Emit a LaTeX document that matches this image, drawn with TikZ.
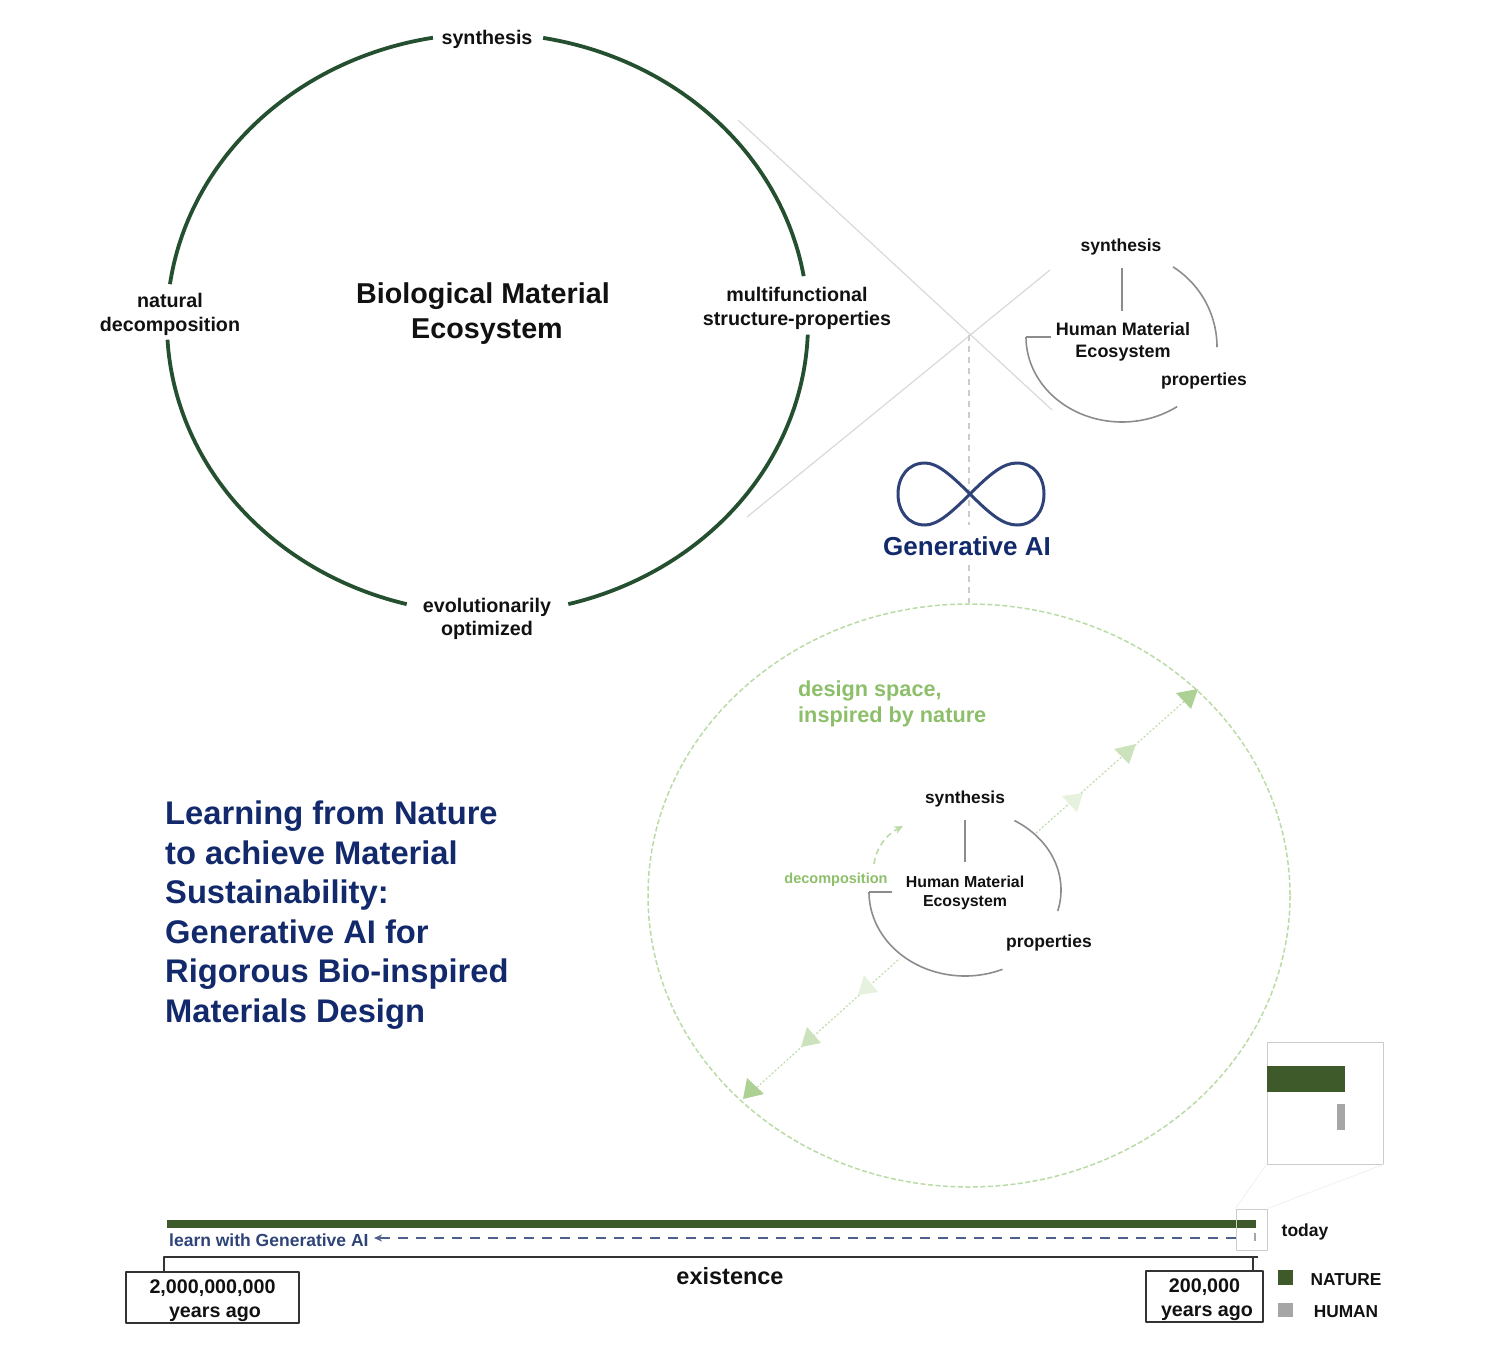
\documentclass[tikz,border=0pt]{standalone}
\usepackage{fontspec}
\setmainfont{Liberation Sans}
\usetikzlibrary{arrows.meta}
\definecolor{ringgreen}{HTML}{24502F}
\definecolor{barred}{HTML}{3F5A2A}
\definecolor{leaf}{HTML}{8DBF6B}
\definecolor{leafline}{HTML}{BBDBA6}
\definecolor{aiblue}{HTML}{12296B}
\definecolor{aisoft}{HTML}{2F4379}
\definecolor{darktext}{HTML}{111111}
\tikzset{
  lbl/.style={font=\bfseries\fontsize{19.7}{23.5}\selectfont, text=darktext, align=center, inner sep=0pt},
  lblsmall/.style={lbl, font=\bfseries\fontsize{17.5}{22}\selectfont},
  ring/.style={line width=3.8pt, ringgreen},
  loopline/.style={line width=1.6pt, black!45},
  crossline/.style={line width=1.2pt, black!15},
  yearbox/.style={draw=black!80, line width=1.6pt, lbl, fill=white, font=\bfseries\fontsize{19.7}{24}\selectfont}
}
\begin{document}
\begin{tikzpicture}[line join = round, x=1pt, y=-1pt, >={Stealth[length=9pt,width=8pt]}]
\useasboundingbox (0,0) rectangle (1488,1352);
%Biological ring
\foreach \a/\b in {80/9.4, -2.2/-75.4, -104.6/-176.8, 172.2/99.8}
  \draw[ring] plot[domain = \a:\b, samples = 80, smooth, variable=\t]({487.5+320.5*cos(\t)},{323.5-290*sin(\t)});
\node[lbl] (bioSyn) at (487,39) {synthesis};
\node[lbl] (bioDec) at (170,314.5) {natural\\decomposition};
\node[lbl] (bioPro) at (797,308.5) {multifunctional\\structure-properties};
\node[lbl] (bioEvo) at (487,619) {evolutionarily\\optimized};
\node[lbl, font=\bfseries\fontsize{28.7}{35}\selectfont] (bioName) at (483,313.5) {Biological Material\\\hspace*{8pt}Ecosystem};
%Zoom lines
\coordinate (crossA) at (738,120);
\coordinate (crossB) at (1052,410);
\coordinate (crossC) at (747,517);
\coordinate (crossD) at (1050,270);
\coordinate (crossO) at (969,335);
\draw[crossline] (crossA)--(crossB);
\draw[crossline] (crossC)--(crossD);
\coordinate (aiTop) at (969,525);
\coordinate (aiBot) at (969,565);
\coordinate (spaceTop) at (969,603);
\draw[line width=1.5pt, black!20, dash pattern=on 6pt off 5pt] (crossO)--(aiTop);
\draw[line width=1.5pt, black!20, dash pattern=on 6pt off 5pt] (aiBot)--(spaceTop);
%Human ecosystem, top
\foreach \cx/\cy/\rx/\ry/\a/\b in {1122/347/95/95/57.5/0, 1122/337/96/85/180/305}
  \draw[loopline] plot[domain = \a:\b, samples = 60, smooth, variable=\t]({\cx+\rx*cos(\t)},{\cy-\ry*sin(\t)});
\node[lblsmall] (topSyn) at (1121,247) {synthesis};
\node[lblsmall] (topPro) at (1204,380.5) {properties};
\node[lblsmall, font=\bfseries\fontsize{18}{22}\selectfont] (topName) at (1123,341.5) {Human Material\\Ecosystem};
\coordinate (topBarA) at (1122,268);
\coordinate (topBarB) at (1122,311);
\coordinate (topTickA) at (1026,337);
\coordinate (topTickB) at (1051,337);
\draw[loopline] (topBarA)--(topBarB);
\draw[loopline] (topTickA)--(topTickB);
%Generative AI
\draw[line width=3pt, aisoft] (970,494) .. controls (950,474) and (937,463) .. (925,463) .. controls (908,463) and (898,477) .. (898,494) .. controls (898,511) and (908,525) .. (925,525) .. controls (937,525) and (950,514) .. (970,494) .. controls (990,474) and (1003,463) .. (1017,463) .. controls (1034,463) and (1044,477) .. (1044,494) .. controls (1044,511) and (1034,525) .. (1017,525) .. controls (1003,525) and (990,514) .. (970,494) -- cycle;
\node[lbl, text=aiblue, font=\bfseries\fontsize{26}{30}\selectfont] (aiName) at (967,546) {Generative AI};
%Design space
\draw[line width=1.5pt, leafline, dash pattern=on 5pt off 2.5pt] (969,895.5) ellipse [x radius=321, y radius=291.5];
\node[lbl, text=leaf, align=left, anchor=west, font=\bfseries\fontsize{21.7}{26}\selectfont] (spaceName) at (798,704) {design space,\\inspired by nature};
\coordinate (upA) at (1036,833);
\coordinate (upB) at (1197,690);
\coordinate (downA) at (898,960);
\coordinate (downB) at (745,1098);
\draw[line width=1.1pt, leafline, dash pattern=on 2pt off 2pt] (upA)--(upB);
\draw[line width=1.1pt, leafline, dash pattern=on 2pt off 2pt] (downA)--(downB);
\foreach \ax/\ay/\bx/\by/\cx/\cy/\shade in {
  1176/693/1191/709/1198/689/72, 1114/749/1129/764/1136/744/45, 1062/796/1077/812/1083/793/22,
  743/1099/747/1078/764/1094/72, 801/1047/807/1027/821/1043/45, 858/995/864/975/878/992/22}
  \fill[leaf!\shade!white] (\ax,\ay)--(\bx,\by)--(\cx,\cy)--cycle;
%Human ecosystem, bottom
\foreach \cx/\cy/\rx/\ry/\a/\b in {965/890/96/81/59/-15, 965/892/96/84/180/293}
  \draw[loopline] plot[domain = \a:\b, samples = 60, smooth, variable=\t]({\cx+\rx*cos(\t)},{\cy-\ry*sin(\t)});
\node[lblsmall, font=\bfseries\fontsize{17.3}{22}\selectfont] (lowSyn) at (965,799.5) {synthesis};
\node[lblsmall] (lowPro) at (1049,942.5) {properties};
\node[lblsmall, font=\bfseries\fontsize{15.9}{19}\selectfont] (lowName) at (965,892.5) {Human Material\\Ecosystem};
\node[lbl, text=leaf, font=\bfseries\fontsize{14.5}{17}\selectfont] (lowDec) at (836,880) {decomposition};
\coordinate (lowBarA) at (965,820);
\coordinate (lowBarB) at (965,862);
\coordinate (lowTickA) at (869,892);
\coordinate (lowTickB) at (892,892);
\coordinate (decA) at (874,864);
\coordinate (decB) at (903,826);
\draw[loopline] (lowBarA)--(lowBarB);
\draw[loopline] (lowTickA)--(lowTickB);
\draw[->, line width=1.6pt, leafline, dash pattern=on 6pt off 4pt] (decA) .. controls (876,848) and (886,835) .. (decB);
%Title
\node[lbl, text=aiblue, align=left, anchor=north west, font=\bfseries\fontsize{32.7}{39.5}\selectfont] (paperTitle) at (165,801) {Learning from Nature\\to achieve Material\\Sustainability:\\Generative AI for\\Rigorous Bio-inspired\\Materials Design};
%Timeline
\fill[barred] (167,1220) rectangle (1256,1228);
\node[lblsmall, text=aisoft, anchor=west] (learnName) at (169,1240) {learn with Generative AI};
\node[draw=black!20, line width=1pt, minimum width=31pt, minimum height=41pt, inner sep=0pt] (todayBox) at (1251.5,1229.5) {};
\node[draw=black!20, line width=1pt, minimum width=116pt, minimum height=122pt, inner sep=0pt] (zoomBox) at (1325,1103) {};
\draw[line width=.8pt, black!6] (todayBox.north west)--(zoomBox.south west);
\draw[line width=.8pt, black!6] (todayBox.north east)--(zoomBox.south east);
\coordinate (learnEnd) at (374,1238);
\draw[->, >={Stealth[length=8pt,width=7pt]}, line width=2.2pt, aisoft!85, dash pattern=on 10pt off 8pt] (learnEnd -| todayBox.west)--(learnEnd);
\fill[black!35] (1254,1233) rectangle (1256,1241);
\fill[barred] (1267,1066) rectangle (1345,1092);
\fill[black!35] (1337,1104) rectangle (1345,1130);
\node[lblsmall] (todayName) at (1305,1232) {today};
\node[yearbox, minimum width=173pt, minimum height=51pt, text depth=0pt] (oldBox) at (212.5,1297.5) {\raisebox{-3pt}{2,000,000,000}\\\raisebox{-3pt}{\hspace*{5pt}years ago}};
\node[yearbox, minimum width=117pt, minimum height=51pt, text depth=0pt] (newBox) at (1204.5,1296.5) {\raisebox{-3pt}{200,000}\\\raisebox{-3pt}{\hspace*{5pt}years ago}};
\coordinate (brkA) at (164,1257);
\coordinate (brkB) at (1253,1257);
\coordinate (brkC) at (1258,1257);
\draw[line width=1.6pt, black!80] (brkA |- oldBox.north)--(brkA)--(brkC);
\draw[line width=1.6pt, black!80] (brkB)--(brkB |- newBox.north);
\node[lbl, font=\bfseries\fontsize{23.5}{26}\selectfont] (existName) at (730,1276) {existence};
%Legend
\fill[barred] (1278,1270) rectangle (1293,1285);
\fill[black!35] (1278,1303) rectangle (1293,1317);
\node[lblsmall, font=\bfseries\fontsize{17.3}{20}\selectfont] (natName) at (1346,1279.5) {NATURE};
\node[lblsmall, font=\bfseries\fontsize{17.3}{20}\selectfont] (humName) at (1346,1312) {HUMAN};
\end{tikzpicture}
\end{document}
